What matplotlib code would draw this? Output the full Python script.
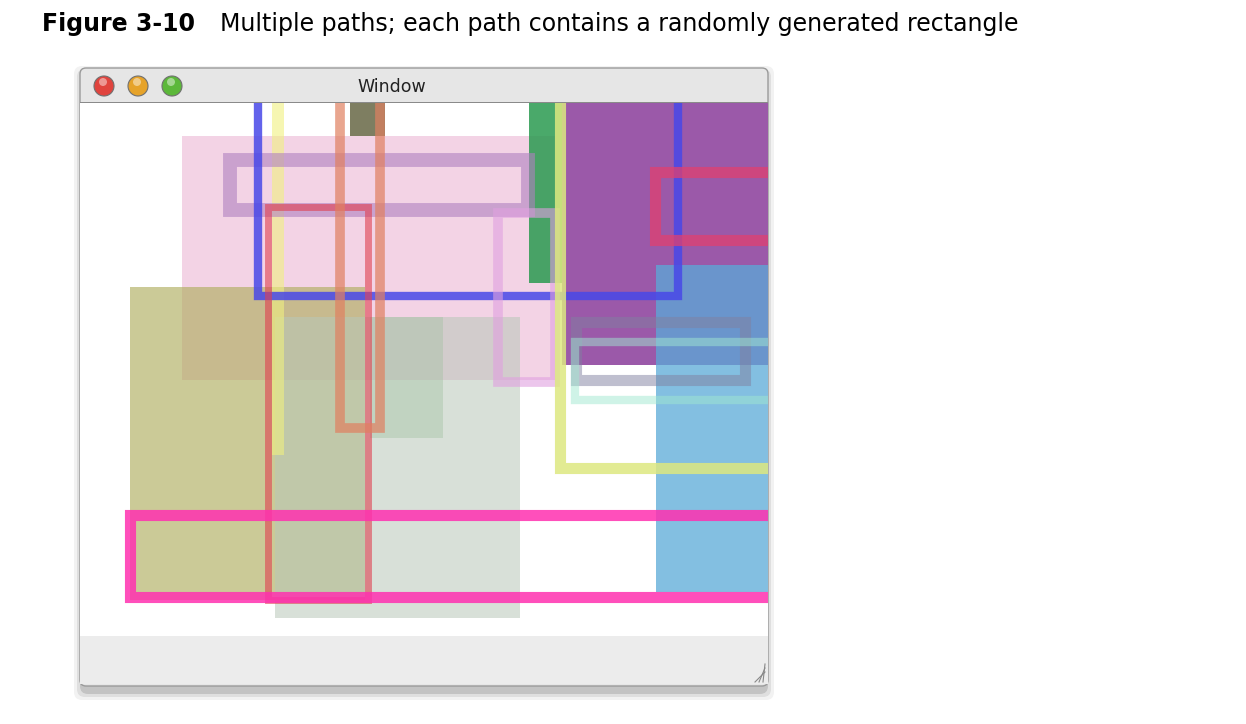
import matplotlib.pyplot as plt
from matplotlib.patches import Rectangle, FancyBboxPatch, Circle

# window geometry (pixels)
win_x0, win_x1 = 80, 768
win_y0, title_y1, content_y1, win_y1 = 68, 103, 636, 686

# filled rectangles: x, y, w, h, colour, alpha
fill_x = [182, 130, 275, 370, 562, 656, 529, 350, 272]
fill_y = [136, 287, 317, 317, 103, 265, 103, 103, 103]
fill_w = [373, 235, 245, 73, 206, 112, 33, 35, 12]
fill_h = [244, 313, 301, 121, 262, 327, 180, 33, 352]
fill_c = ['#e8a8cc', '#b0ae60', '#b8c8b8', '#a0c0a0', '#8a3c9a',
          '#5aaad8', '#2a9a50', '#707050', '#f0f080']
fill_a = [0.5, 0.65, 0.55, 0.4, 0.85, 0.75, 0.85, 0.9, 0.6]

# stroked rectangles: x, y, w, h, line width, colour, alpha
str_x = [230, 258, 268, 340, 498, 560, 576, 575, 655, 130]
str_y = [160, 90, 207, 90, 213, 90, 322, 342, 172, 515]
str_w = [298, 420, 100, 40, 57, 250, 169, 220, 150, 680]
str_h = [50, 206, 393, 338, 169, 378, 58, 58, 68, 82]
str_lw = [10, 6, 5, 7, 7, 8, 8, 6, 8, 8]
str_c = ['#b080c0', '#4848e8', '#e04050', '#e08060', '#e0a0e0',
         '#dde880', '#8080a0', '#a0e8d0', '#e04070', '#ff30b0']
str_a = [0.6, 0.85, 0.6, 0.7, 0.6, 0.85, 0.5, 0.5, 0.75, 0.85]

fig = plt.figure(figsize=(12.46, 7.24), dpi=100)
ax = fig.add_axes([0, 0, 1, 1])
ax.set_xlim(0, 1246)
ax.set_ylim(724, 0)
ax.axis('off')

# caption
ax.text(42, 24, 'Figure 3-10', fontsize=17, fontweight='bold', va='center', family='DejaVu Sans')
ax.text(220, 24, 'Multiple paths; each path contains a randomly generated rectangle',
        fontsize=17, va='center', family='DejaVu Sans')

# shadow + window frame
for i, a in enumerate([0.05, 0.08, 0.12]):
    d = 8 - i * 3
    ax.add_patch(FancyBboxPatch((win_x0 - d + 2, win_y0 + 6 - d), win_x1 - win_x0 + 2 * d - 4,
                                win_y1 - win_y0 + 2 * d, boxstyle='round,pad=0,rounding_size=8',
                                fc='black', ec='none', alpha=a, zorder=0))
ax.add_patch(FancyBboxPatch((win_x0, win_y0), win_x1 - win_x0, win_y1 - win_y0,
                            boxstyle='round,pad=0,rounding_size=6', fc='#e6e6e6', ec='#9a9a9a', lw=1, zorder=1))
ax.add_patch(Rectangle((win_x0, title_y1 - 1), win_x1 - win_x0, 1, fc='#8a8a8a', zorder=2))
ax.add_patch(Rectangle((win_x0, content_y1), win_x1 - win_x0, win_y1 - content_y1 - 2, fc='#ececec', ec='none', zorder=2))
content = Rectangle((win_x0, title_y1), win_x1 - win_x0, content_y1 - title_y1, fc='white', ec='none', zorder=2)
ax.add_patch(content)

# traffic lights
for cx, col in zip([104, 138, 172], ['#e0443e', '#e6a32a', '#5cb83a']):
    ax.add_patch(Circle((cx, 86), 10, fc=col, ec='#707070', lw=0.8, zorder=3))
    ax.add_patch(Circle((cx - 1, 82), 4, fc='white', alpha=0.45, ec='none', zorder=4))
ax.text(392, 87, 'Window', fontsize=12.5, ha='center', va='center', color='#222222', zorder=3)

for x, y, w, h, c, a in zip(fill_x, fill_y, fill_w, fill_h, fill_c, fill_a):
    p = Rectangle((x, y), w, h, fc=c, ec='none', alpha=a, zorder=5)
    ax.add_patch(p)
    p.set_clip_path(content)
for x, y, w, h, lw, c, a in zip(str_x, str_y, str_w, str_h, str_lw, str_c, str_a):
    p = Rectangle((x, y), w, h, fc='none', ec=c, lw=lw, alpha=a, zorder=6)
    ax.add_patch(p)
    p.set_clip_path(content)

# resize grip
for k in range(3):
    ax.plot([755 + k * 4, 765], [682, 672 - k * 4], color='#888888', lw=0.8, zorder=7)

fig.savefig('out.png', dpi=100)
